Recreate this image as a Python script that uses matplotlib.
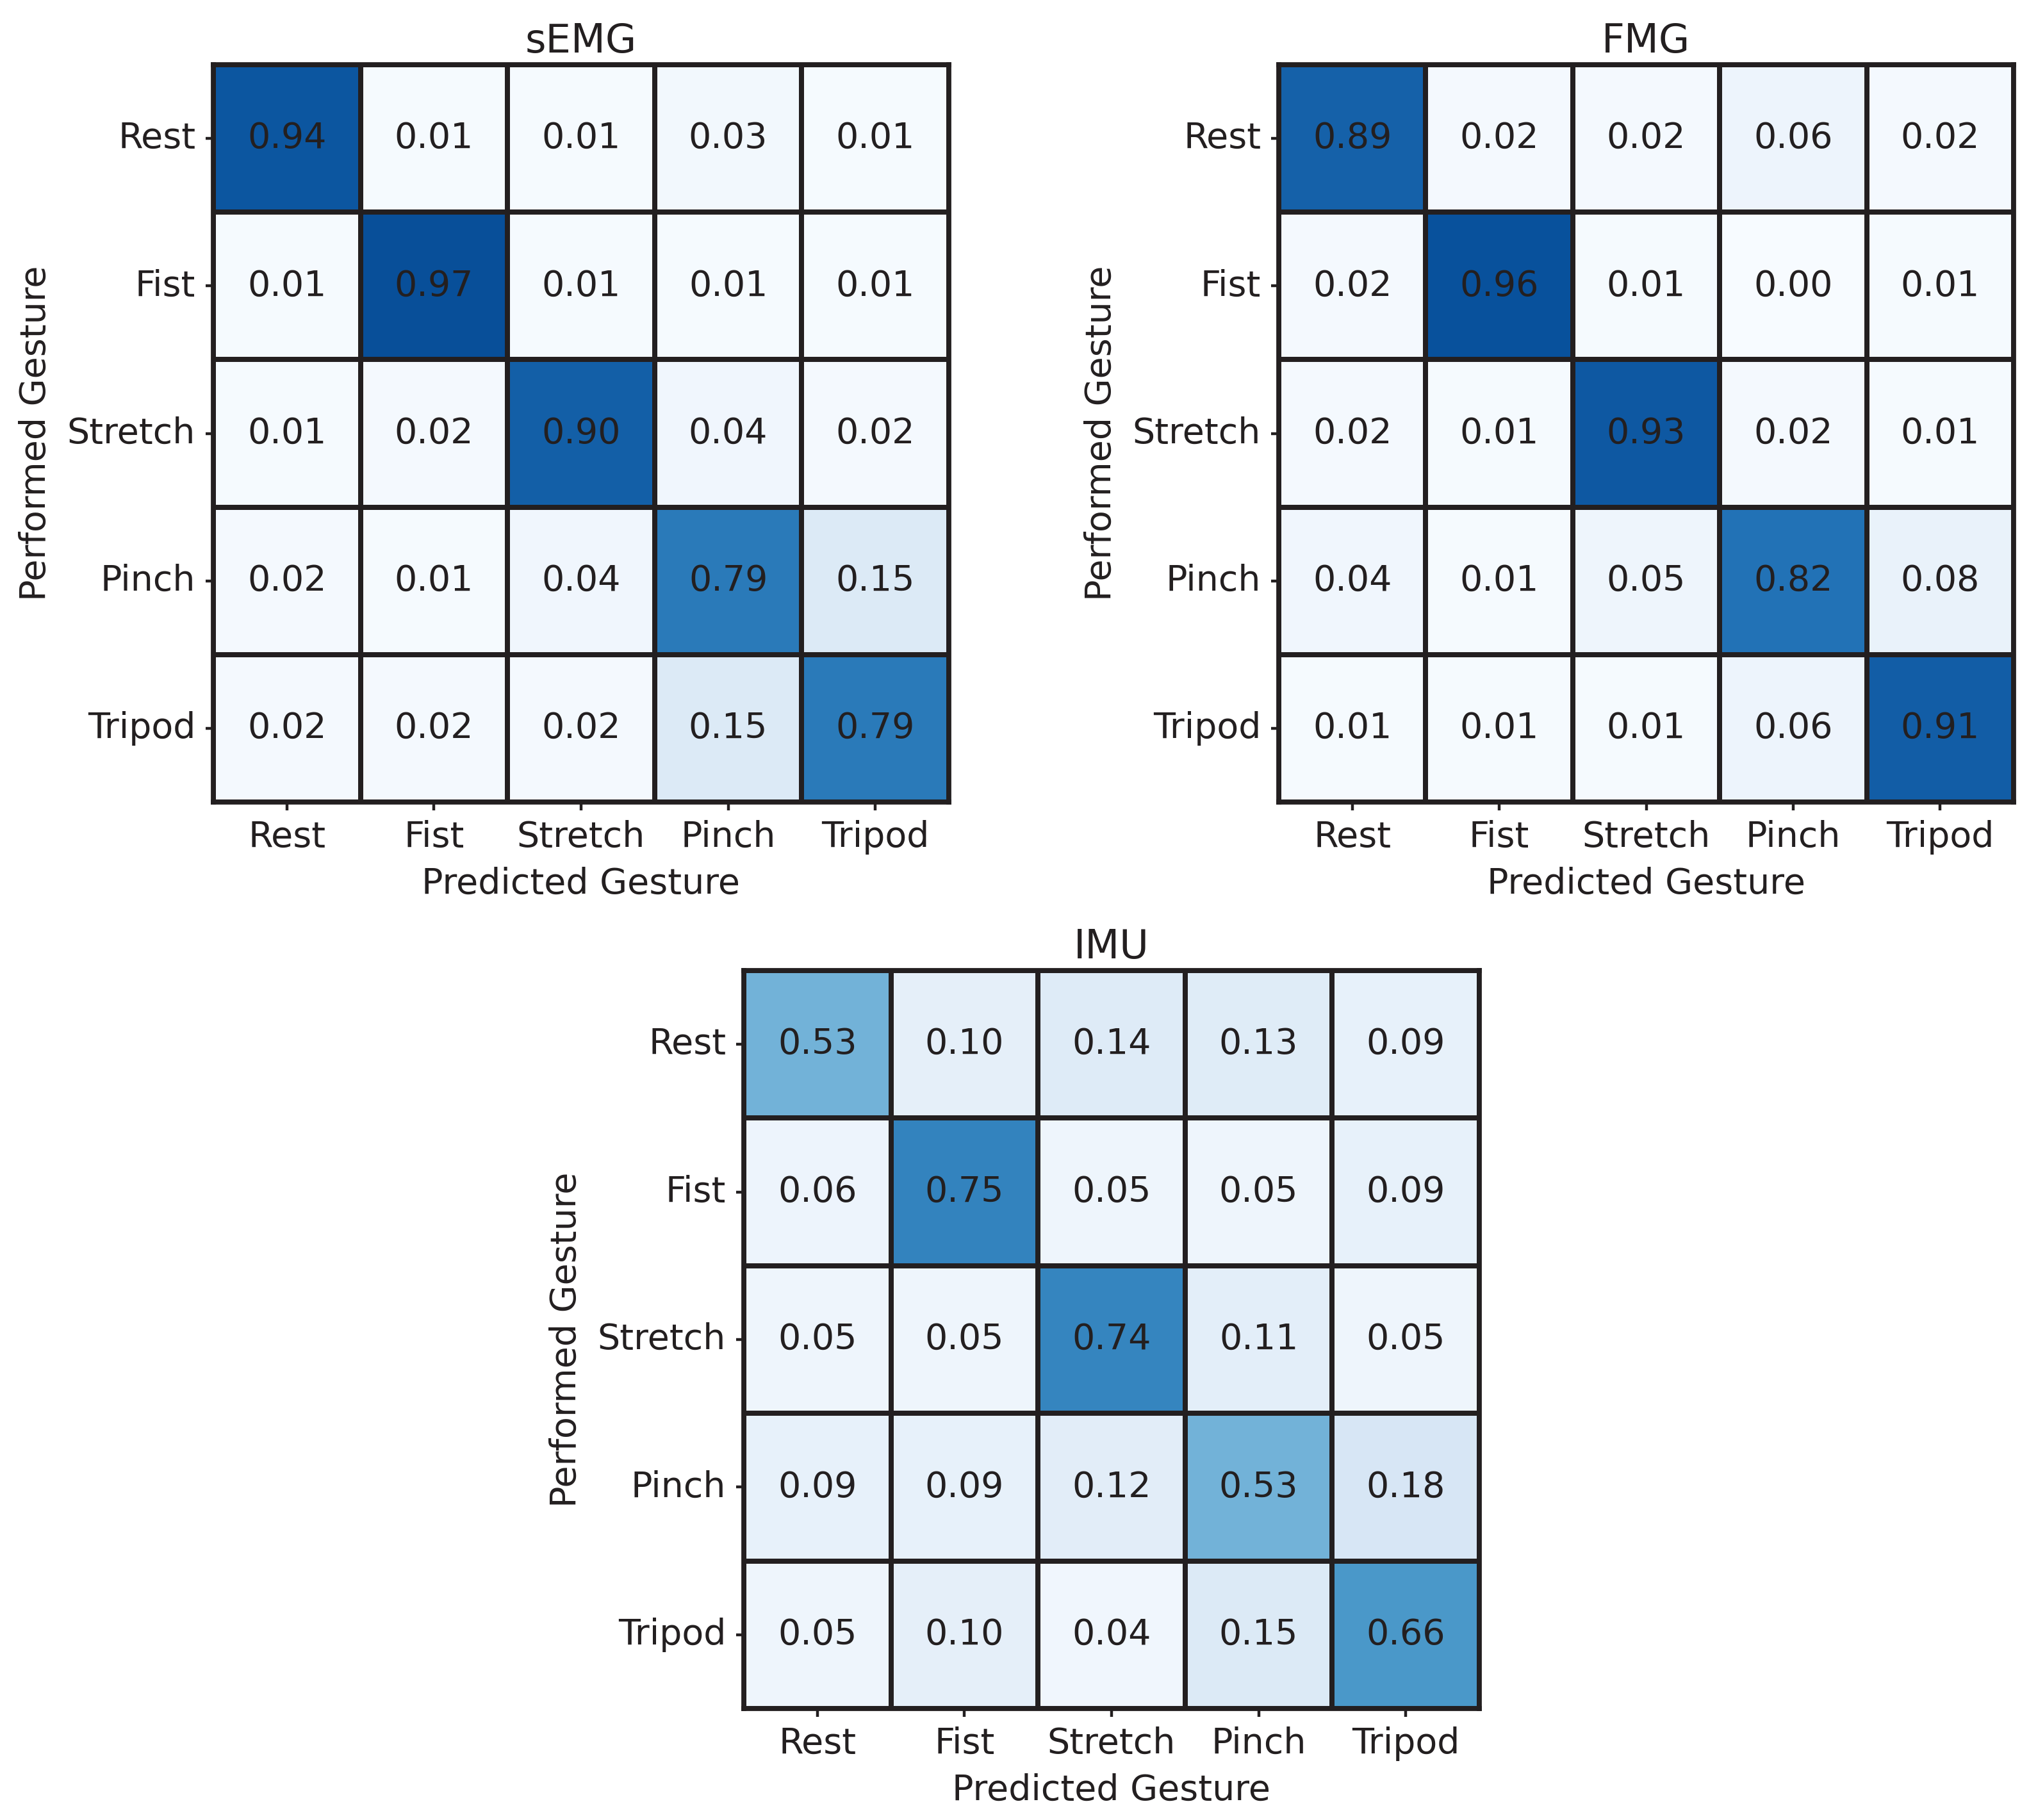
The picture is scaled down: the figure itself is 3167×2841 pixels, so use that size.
import matplotlib
matplotlib.use("Agg")
import matplotlib.pyplot as plt
import numpy as np
import seaborn as sns

GESTURES = ["Rest", "Fist", "Stretch", "Pinch", "Tripod"]

semg = [
    [0.94, 0.01, 0.01, 0.03, 0.01],
    [0.01, 0.97, 0.01, 0.01, 0.01],
    [0.01, 0.02, 0.90, 0.04, 0.02],
    [0.02, 0.01, 0.04, 0.79, 0.15],
    [0.02, 0.02, 0.02, 0.15, 0.79],
]

fmg = [
    [0.89, 0.02, 0.02, 0.06, 0.02],
    [0.02, 0.96, 0.01, 0.00, 0.01],
    [0.02, 0.01, 0.93, 0.02, 0.01],
    [0.04, 0.01, 0.05, 0.82, 0.08],
    [0.01, 0.01, 0.01, 0.06, 0.91],
]

imu = [
    [0.53, 0.10, 0.14, 0.13, 0.09],
    [0.06, 0.75, 0.05, 0.05, 0.09],
    [0.05, 0.05, 0.74, 0.11, 0.05],
    [0.09, 0.09, 0.12, 0.53, 0.18],
    [0.05, 0.10, 0.04, 0.15, 0.66],
]

INK = "#231f20"
plt.rcParams["font.family"] = ["DejaVu Sans"]
plt.rcParams["text.color"] = INK
plt.rcParams["axes.labelcolor"] = INK
plt.rcParams["xtick.color"] = INK
plt.rcParams["ytick.color"] = INK

W, H = 3167, 2841
fig = plt.figure(figsize=(W / 200, H / 200), dpi=200)


def px_axes(x0, y0, x1, y1):
    return fig.add_axes([x0 / W, 1 - y1 / H, (x1 - x0) / W, (y1 - y0) / H])


def draw(ax, mat, title):
    sns.heatmap(
        np.array(mat), ax=ax, cmap="Blues", vmin=0, vmax=1.1, cbar=False,
        annot=True, fmt=".2f", annot_kws={"size": 20, "color": INK},
        linewidths=2.2, linecolor=INK, square=False,
        xticklabels=GESTURES, yticklabels=GESTURES,
    )
    for s in ax.spines.values():
        s.set_visible(True)
        s.set_linewidth(2.8)
        s.set_color(INK)
    ax.set_title(title, fontsize=22.5, pad=7)
    ax.set_xlabel("Predicted Gesture", fontsize=20, labelpad=7)
    ax.set_ylabel("Performed Gesture", fontsize=20, labelpad=8)
    ax.tick_params(labelsize=20, length=4.5, width=1.6, pad=5.5)
    plt.setp(ax.get_yticklabels(), rotation=0)
    plt.setp(ax.get_xticklabels(), rotation=0)


ax1 = px_axes(333, 101, 1481, 1252)
ax2 = px_axes(1996, 101, 3143, 1252)
ax3 = px_axes(1161, 1515, 2309, 2667)

draw(ax1, semg, "sEMG")
draw(ax2, fmg, "FMG")
draw(ax3, imu, "IMU")

fig.savefig("out.png", dpi=200)
